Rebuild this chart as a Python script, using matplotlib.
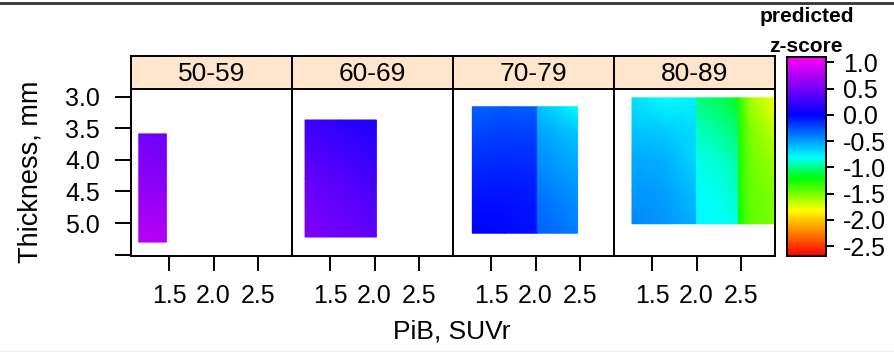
import matplotlib
matplotlib.use("Agg")
import matplotlib.pyplot as plt
import numpy as np
from matplotlib.colors import LinearSegmentedColormap, Normalize
from matplotlib.lines import Line2D

plt.rcParams['font.family'] = ['Liberation Sans', 'DejaVu Sans']
plt.rcParams['axes.unicode_minus'] = False

# ---------------- data ----------------
age_groups = ["50-59", "60-69", "70-79", "80-89"]

# PiB SUVr grid nodes, thickness grid nodes and predicted z-score (rows follow thickness)
pib_50 = [1.16, 1.47]
thk_50 = [3.59, 4.45, 5.30]
z_50 = [[0.50, 0.45],
        [0.63, 0.60],
        [0.80, 0.76]]

pib_60 = [1.22, 1.62, 2.02]
thk_60 = [3.37, 4.30, 5.22]
z_60 = [[0.25, 0.18, 0.11],
        [0.44, 0.36, 0.28],
        [0.55, 0.48, 0.41]]

pib_70 = [1.29, 1.65, 2.02, 2.02, 2.25, 2.47]
thk_70 = [3.16, 3.60, 4.20, 4.70, 5.16]
z_70 = [[-0.32, -0.29, -0.30, -0.61, -0.70, -0.81],
        [-0.22, -0.19, -0.20, -0.50, -0.56, -0.62],
        [-0.12, -0.10, -0.12, -0.42, -0.47, -0.52],
        [-0.04, -0.04, -0.07, -0.35, -0.40, -0.44],
        [0.00, -0.02, -0.05, -0.30, -0.35, -0.40]]

pib_80 = [1.275, 1.65, 2.00, 2.00, 2.25, 2.47, 2.47, 2.60, 2.88]
thk_80 = [3.02, 3.50, 4.00, 4.50, 5.01]
z_80 = [[-0.71, -0.81, -0.76, -1.02, -1.08, -1.17, -1.30, -1.60, -1.80],
        [-0.63, -0.66, -0.71, -0.92, -0.98, -1.06, -1.28, -1.52, -1.68],
        [-0.53, -0.56, -0.69, -0.85, -0.88, -0.96, -1.27, -1.48, -1.58],
        [-0.48, -0.51, -0.61, -0.81, -0.84, -0.90, -1.26, -1.46, -1.52],
        [-0.43, -0.48, -0.56, -0.79, -0.81, -0.86, -1.26, -1.45, -1.50]]

panels = [(pib_50, thk_50, z_50), (pib_60, thk_60, z_60),
          (pib_70, thk_70, z_70), (pib_80, thk_80, z_80)]

x_ticks = [1.5, 2.0, 2.5]
y_ticks = [3.0, 3.5, 4.0, 4.5, 5.0, 5.5]
y_tick_labels = ["3.0", "3.5", "4.0", "4.5", "5.0", ""]
cbar_ticks = [1.0, 0.5, 0.0, -0.5, -1.0, -1.5, -2.0, -2.5]
z_min, z_max = -2.69, 1.10

# ---------------- style ----------------
W, H = 895, 352
fig = plt.figure(figsize=(W / 100, H / 100), dpi=100)

anchors = [(-2.69, "#ff0000"), (-1.82, "#ffff00"), (-1.22, "#00ff00"),
           (-0.81, "#00ffff"), (0.0, "#0000ff"), (1.10, "#ff00f0")]
cmap = LinearSegmentedColormap.from_list(
    "rb", [((v - z_min) / (z_max - z_min), c) for v, c in anchors], N=512)
norm = Normalize(z_min, z_max)

def fx(px):
    return px / W

def fy(py):
    return 1 - py / H

lw = 1.4
tick_fs = 18
panel_left, panel_w = 131, 161
plot_top, plot_bot = 89, 256
strip_top = 56

for i, (lab, (px, py, pz)) in enumerate(zip(age_groups, panels)):
    l = panel_left + i * panel_w
    ax = fig.add_axes([fx(l), fy(plot_bot), panel_w / W, (plot_bot - plot_top) / H])
    X, Y = np.meshgrid(px, py)
    ax.pcolormesh(X, Y, np.array(pz), shading="gouraud", cmap=cmap, norm=norm)
    ax.set_xlim(1.073, 2.88)
    ax.set_ylim(5.52, 2.88)
    for s in ax.spines.values():
        s.set_linewidth(lw)
    ax.set_xticks(x_ticks)
    ax.set_xticklabels([f"{t:.1f}" for t in x_ticks])
    ax.tick_params(axis="x", direction="out", length=11, width=lw, pad=9, labelsize=tick_fs)
    if i == 0:
        ax.set_yticks(y_ticks)
        ax.set_yticklabels(y_tick_labels)
        ax.tick_params(axis="y", direction="out", length=11.5, width=lw, pad=11, labelsize=tick_fs)
    else:
        ax.set_yticks([])
    # strip
    sax = fig.add_axes([fx(l), fy(plot_top), panel_w / W, (plot_top - strip_top) / H])
    sax.set_facecolor("#ffe5cc")
    sax.set_xticks([]); sax.set_yticks([])
    for s in sax.spines.values():
        s.set_linewidth(lw)
    sax.text(0.5, 0.45, lab, ha="center", va="center", fontsize=19, transform=sax.transAxes)

# colorbar
cax = fig.add_axes([fx(787), fy(256), 39 / W, 199 / H])
grad = np.linspace(z_min, z_max, 400).reshape(-1, 1)
cax.imshow(grad, aspect="auto", origin="lower", cmap=cmap, norm=norm,
           extent=[0, 1, z_min, z_max])
cax.set_xlim(0, 1); cax.set_ylim(z_min, z_max)
cax.set_xticks([])
cax.yaxis.tick_right()
cax.set_yticks(cbar_ticks)
cax.set_yticklabels([f"{t:.1f}" for t in cbar_ticks])
cax.tick_params(axis="y", direction="out", length=5.5, width=lw, pad=7, labelsize=tick_fs)
for s in cax.spines.values():
    s.set_linewidth(lw)

fig.text(fx(807), fy(22), "predicted", ha="center", va="baseline", fontsize=15, fontweight="bold")
fig.text(fx(806), fy(52), "z-score", ha="center", va="baseline", fontsize=15, fontweight="bold")

fig.text(fx(31), fy(172), "Thickness, mm", rotation=90, ha="center", va="center", fontsize=19.5)
fig.text(fx(452), fy(332), "PiB, SUVr", ha="center", va="center", fontsize=19)

fig.add_artist(Line2D([0, 1], [fy(2.5), fy(2.5)], transform=fig.transFigure, color="#333333", lw=2))
fig.add_artist(Line2D([0, 1], [fy(351), fy(351)], transform=fig.transFigure, color="#eeeeee", lw=1))

fig.savefig("out.png", dpi=100)
